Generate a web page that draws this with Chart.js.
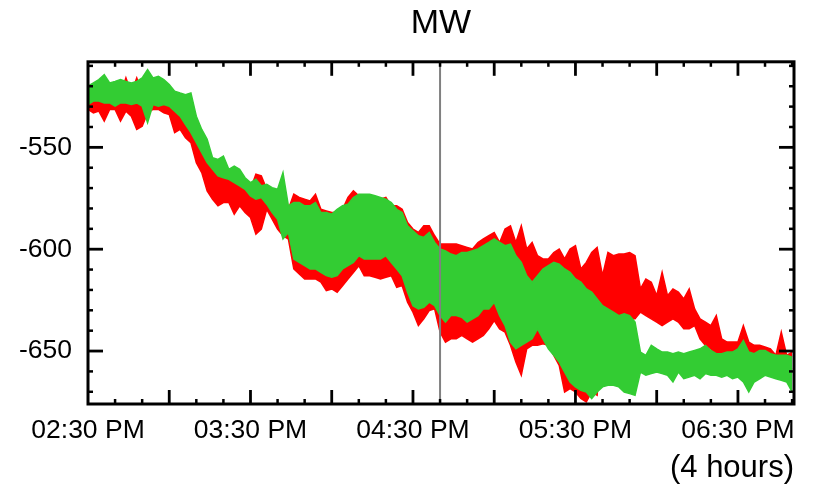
<!DOCTYPE html>
<html>
<head>
<meta charset="utf-8">
<script src="https://cdn.jsdelivr.net/npm/chart.js@4.4.1/dist/chart.umd.min.js"></script>
<style>
html,body{margin:0;padding:0;background:#fff;}
#wrap{width:813px;height:489px;}
</style>
</head>
<body>
<div id="wrap"><canvas id="c" width="813" height="489"></canvas></div>
<script>
// minutes after 02:30 PM
const minutes = [
  0,2,4,6,8,10,12,14,16,18,20,22,24,26,28,30,32,34,36,38,
  40,42,44,46,48,50,52,54,56,58,60,62,64,66,68,70,72,74,76,78,
  80,82,84,86,88,90,92,94,96,98,100,102,104,106,108,110,112,114,116,118,
  120,122,124,126,128,130,132,134,136,138,140,142,144,146,148,150,152,154,156,158,
  160,162,164,166,168,170,172,174,176,178,180,182,184,186,188,190,192,194,196,198,
  200,202,204,206,208,210,212,214,216,218,220,222,224,226,228,230,232,234,236,238,
  240,242,244,246,248,250,252,254,256,258,260
];
const greenHigh = [
  -520,-518.4,-516.7,-514.3,-518.4,-517.6,-516.7,-517.6,-518.4,-517.6,
  -515.9,-511.8,-515.9,-515.1,-516.7,-519.2,-522.4,-523.3,-524.1,-523.3,
  -534.7,-541.2,-546.1,-555.1,-555.9,-554.3,-560.8,-559.2,-560.8,-564.9,
  -567.3,-565.7,-568.9,-568.1,-569.8,-570.6,-562.4,-578.7,-577.1,-577.1,
  -578.7,-578.7,-577.1,-582,-582,-582.8,-580.4,-578.7,-577.9,-574.6,
  -573,-573,-573,-573.8,-574.6,-575.5,-577.1,-580.4,-582,-588.5,
  -591,-593.4,-594.2,-591.8,-596.7,-599.9,-600.8,-602.4,-603.2,-601.6,
  -601.6,-600.8,-599.9,-598.3,-596.7,-595,-596.7,-598.3,-597.5,-603.2,
  -606.5,-613,-616.2,-613,-609.7,-608.1,-606.5,-607.3,-609.7,-611.4,
  -614.6,-616.2,-619.5,-621.1,-624.4,-627.7,-629.3,-630.9,-632.6,-631.7,
  -632.6,-635.8,-650.5,-652.1,-647.2,-648.9,-650.5,-650.5,-651.3,-650.5,
  -651.3,-650.5,-649.7,-648.9,-647.2,-649.7,-651.3,-651.3,-650.5,-650.5,
  -648.9,-644.8,-650.5,-651.3,-649.7,-649.7,-651.3,-652.1,-652.1,-652.1,
  -653
];
const greenLow = [
  -529,-527.3,-527.3,-528.2,-528.2,-529.8,-528.2,-528.2,-529,-528.2,
  -529.8,-537.9,-529,-529.8,-529,-529.8,-532.2,-534.7,-538.8,-542.8,
  -547.7,-552.6,-557.5,-560.8,-564,-564.9,-565.7,-567.3,-568.9,-570.6,
  -573.8,-575.5,-574.6,-577.9,-582,-585.3,-595,-591.8,-604.8,-606.5,
  -608.1,-609.7,-609.7,-611.4,-613,-613.8,-613,-609.7,-608.1,-606.5,
  -603.2,-604.8,-604.8,-604.8,-604.8,-603.2,-606.5,-609.7,-613,-621.1,
  -627.7,-629.3,-628.5,-626,-627.7,-632.6,-635.8,-632.6,-632.6,-633.4,
  -635.8,-634.2,-632.6,-629.3,-629.3,-626,-632.6,-637.5,-645.6,-648.9,
  -647.2,-645.6,-644,-639.1,-644,-648.9,-652.1,-655.4,-660.3,-665.2,
  -667.6,-669.3,-670.1,-673.3,-670.1,-667.6,-666.8,-666.8,-667.6,-670.1,
  -670.9,-671.7,-660.3,-661.9,-661.1,-660.3,-661.1,-661.9,-665.2,-660.3,
  -663.6,-662.8,-661.9,-663.6,-661.1,-661.9,-661.9,-662.8,-661.9,-663.6,
  -662.8,-665.2,-670.1,-665.2,-663.6,-661.9,-662.8,-663.6,-664.4,-665.2,
  -670.1
];
const redHigh = [
  -522.4,-524.9,-524.9,-524.1,-524.9,-524.9,-524.1,-515.9,-523.3,-515.9,
  -523.3,-524.1,-524.9,-524.1,-524.9,-526.5,-528.2,-529.8,-533.1,-536.3,
  -541.2,-547.7,-554.3,-559.2,-560.8,-560.8,-564,-565.7,-567.3,-568.9,
  -570.6,-563.2,-564,-570.6,-572.2,-573.8,-570.6,-580.4,-573,-574.6,
  -575.5,-576.3,-573,-580.4,-581.2,-582,-582,-580.4,-574.6,-571.4,
  -573.8,-573.8,-573.8,-574.6,-575.5,-574.6,-578.7,-578.7,-580.4,-586.9,
  -590.1,-591.8,-588.5,-588.5,-593.4,-597.5,-597.5,-597.5,-597.5,-598.3,
  -599.1,-599.9,-596.7,-595,-593.4,-591.8,-596.7,-590.1,-588.5,-596.7,
  -588.5,-599.9,-596.7,-603.2,-604.8,-604.8,-601.6,-599.9,-604.8,-599.9,
  -598.3,-609.7,-606.5,-601.6,-599.1,-613,-601.6,-603.2,-602.4,-602.4,
  -601.6,-603.2,-619.5,-614.6,-616.2,-622.8,-611.4,-622.8,-619.5,-621.1,
  -624.4,-619.5,-629.3,-634.2,-635.8,-637.5,-632.6,-644,-645.6,-645.6,
  -645.6,-637.5,-645.6,-647.2,-647.2,-648,-648.9,-652.1,-640.7,-652.1,
  -650.5
];
const redLow = [
  -531.4,-533.1,-532.2,-537.1,-531.4,-531.4,-537.1,-532.2,-534.7,-541.2,
  -539.6,-533.1,-531.4,-531.4,-533.1,-533.9,-542.8,-541.2,-545.3,-547.7,
  -557.5,-562.4,-571.4,-575.5,-578.7,-577.1,-577.1,-582.8,-578.7,-582,
  -584.4,-592.6,-590.1,-580.4,-585.3,-590.1,-593.4,-595,-609.7,-612.2,
  -614.6,-614.6,-614.6,-616.2,-620.3,-619.5,-621.1,-617.9,-614.6,-611.4,
  -608.1,-613,-613,-613.8,-614.6,-613.8,-613,-618.7,-617.9,-626,
  -630.9,-637.5,-634.2,-630.1,-629.3,-640.7,-645.6,-644,-644,-642.3,
  -644,-645.6,-644,-642.3,-639.1,-635,-639.1,-640.7,-647.2,-655.4,
  -661.9,-648.9,-647.2,-647.2,-646.4,-647.2,-652.1,-657,-670.1,-668.4,
  -670.1,-673.3,-675,-670.1,-671.7,-639.1,-637.5,-635.8,-634.2,-635.8,
  -634.2,-634.2,-630.9,-632.6,-634.2,-635.8,-637.5,-635.8,-634.2,-635.8,
  -639.1,-639.1,-637.5,-644,-647.2,-648.9,-652.1,-653.8,-655.4,-655.4,
  -657,-657,-658.7,-661.9,-658.7,-657,-658.7,-661.9,-658.7,-658.7,
  -658.7
];
const markerMinute = [130];

const xTickValues = [0, 60, 120, 180, 240];
const xTickLabels = ['02:30 PM', '03:30 PM', '04:30 PM', '05:30 PM', '06:30 PM'];
const xMajorMarks = [30, 60, 90, 120, 150, 180, 210, 240];
const xMinorMarks = [10, 20, 40, 50, 70, 80, 100, 110, 130, 140, 160, 170, 190, 200, 220, 230, 250, 260];
const yTickValues = [-650, -600, -550];
const yTickLabels = ['-650', '-600', '-550'];
const yMinorMarks = [-670, -660, -640, -630, -620, -610, -590, -580, -570, -560, -540, -530, -520, -510];

const FONT = '"Liberation Sans", Arial, Helvetica, sans-serif';
const X_MIN = 0, X_MAX = 260.7, Y_MIN = -676, Y_MAX = -508;

const pts = arr => arr.map((v, i) => ({ x: minutes[i], y: v }));

const frame = {
  id: 'frame',
  afterDraw(chart) {
    const { ctx, chartArea: a, scales: { x, y } } = chart;
    ctx.save();
    ctx.strokeStyle = '#000';
    ctx.lineCap = 'butt';
    const seg = (x1, y1, x2, y2) => { ctx.beginPath(); ctx.moveTo(x1, y1); ctx.lineTo(x2, y2); ctx.stroke(); };
    ctx.lineWidth = 2.5;
    xMinorMarks.forEach(v => { const p = x.getPixelForValue(v); seg(p, a.bottom, p, a.bottom - 5); seg(p, a.top, p, a.top + 5); });
    yMinorMarks.forEach(v => { const p = y.getPixelForValue(v); seg(a.left, p, a.left + 5, p); seg(a.right, p, a.right - 5, p); });
    ctx.lineWidth = 2.8;
    xMajorMarks.forEach(v => { const p = x.getPixelForValue(v); seg(p, a.bottom, p, a.bottom - 14); seg(p, a.top, p, a.top + 14); });
    yTickValues.forEach(v => { const p = y.getPixelForValue(v); seg(a.left, p, a.left + 15, p); seg(a.right, p, a.right - 15, p); });
    ctx.lineWidth = 3;
    ctx.strokeRect(a.left, a.top, a.right - a.left, a.bottom - a.top);
    ctx.restore();
  }
};

new Chart(document.getElementById('c'), {
  type: 'line',
  data: {
    datasets: [
      { label: 'marker', data: [{ x: markerMinute[0], y: Y_MIN }, { x: markerMinute[0], y: Y_MAX }],
        borderColor: '#808080', borderWidth: 2, pointRadius: 0, fill: false },
      { label: 'green high', data: pts(greenHigh), borderColor: '#33cc33', backgroundColor: '#33cc33',
        borderWidth: 1.5, pointRadius: 0, fill: '+1', tension: 0 },
      { label: 'green low', data: pts(greenLow), borderColor: '#33cc33', borderWidth: 1.5, pointRadius: 0, fill: false, tension: 0 },
      { label: 'red high', data: pts(redHigh), borderColor: '#ff0000', backgroundColor: '#ff0000',
        borderWidth: 1.5, pointRadius: 0, fill: '+1', tension: 0 },
      { label: 'red low', data: pts(redLow), borderColor: '#ff0000', borderWidth: 1.5, pointRadius: 0, fill: false, tension: 0 }
    ]
  },
  options: {
    responsive: false,
    animation: false,
    events: [],
    layout: { padding: { left: 0, right: 19, top: 0, bottom: 0 } },
    plugins: {
      legend: { display: false },
      tooltip: { enabled: false },
      title: {
        display: true, text: 'MW', fullSize: false, color: '#000',
        font: { family: FONT, size: 34, weight: 'normal' },
        padding: { top: 3, bottom: 18 }
      }
    },
    scales: {
      x: {
        type: 'linear', min: X_MIN, max: X_MAX,
        afterBuildTicks: s => { s.ticks = xTickValues.map(v => ({ value: v })); },
        afterFit: s => { s.height = 85; },
        grid: { display: false, drawTicks: false },
        border: { display: false },
        ticks: {
          padding: 11, color: '#000', maxRotation: 0, autoSkip: false,
          font: { family: FONT, size: 26.5 },
          callback: (v, i) => xTickLabels[i]
        },
        title: {
          display: true, text: '(4 hours)', align: 'end', color: '#000',
          font: { family: FONT, size: 31 }, padding: { top: 0, bottom: 2 }
        }
      },
      y: {
        type: 'linear', min: Y_MIN, max: Y_MAX,
        afterBuildTicks: s => { s.ticks = yTickValues.map(v => ({ value: v })); },
        afterFit: s => { s.width = 88; },
        grid: { display: false, drawTicks: false },
        border: { display: false },
        ticks: {
          padding: 16, color: '#000',
          font: { family: FONT, size: 26.5 },
          callback: (v, i) => yTickLabels[i]
        }
      }
    }
  },
  plugins: [frame]
});
</script>
</body>
</html>
